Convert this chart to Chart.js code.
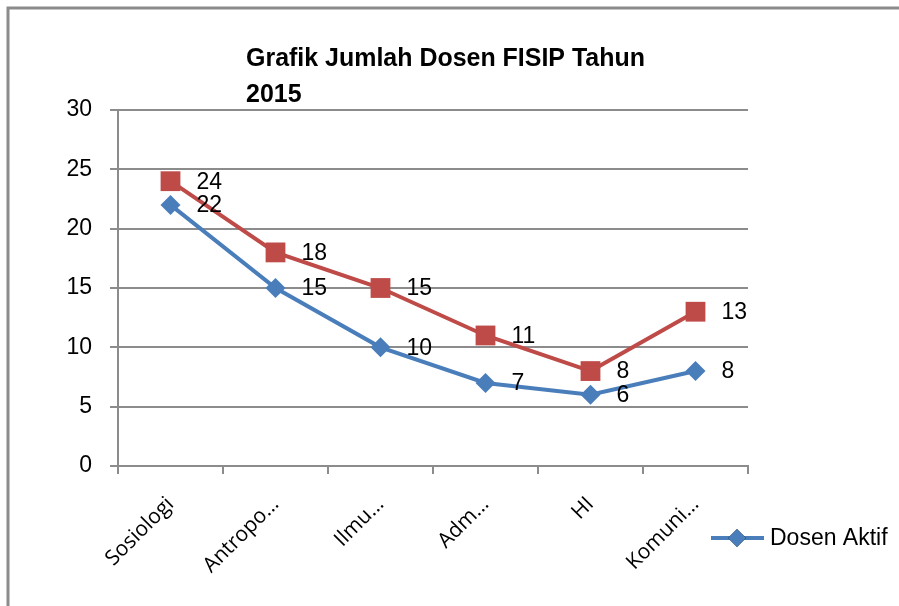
<!DOCTYPE html>
<html>
<head>
<meta charset="utf-8">
<script src="https://cdn.jsdelivr.net/npm/chart.js@4"></script>
<style>
  body { margin: 0; background: #fff; overflow: hidden; }
</style>
</head>
<body>
<canvas id="dosenChart" width="899" height="606"></canvas>
<script>
// Data
const categories = ['Sosiologi', 'Antropo…', 'Ilmu…', 'Adm…', 'HI', 'Komuni…'];
const dosenAktif = [22, 15, 10, 7, 6, 8];
const dosenTotal = [24, 18, 15, 11, 8, 13];
const titleLines = ['Grafik Jumlah Dosen FISIP Tahun', '2015'];

const sans = "'Liberation Sans', Arial, sans-serif";
const blue = '#4A7EBB';
const red = '#BE4B48';
const gridGray = '#8c8c8c';

// frame, title, value labels, legend
const decorPlugin = {
    id: 'decor',
    beforeDraw(chart) {
        const c = chart.ctx;
        c.save();
        c.strokeStyle = gridGray;
        c.lineWidth = 3;
        c.strokeRect(8, 8, 1200, 1200);
        c.restore();
    },
    afterDatasetsDraw(chart) {
        const c = chart.ctx;
        c.save();
        c.font = '23px ' + sans;
        c.fillStyle = '#000';
        c.textBaseline = 'middle';
        c.textAlign = 'left';
        chart.data.datasets.forEach((ds, i) => {
            chart.getDatasetMeta(i).data.forEach((pt, j) => {
                c.fillText(String(ds.data[j]), pt.x + 26, pt.y + 1);
            });
        });
        c.restore();
    },
    afterDraw(chart) {
        const c = chart.ctx;
        c.save();
        // title, slightly condensed
        c.save();
        c.translate(246, 0);
        c.scale(0.96, 1);
        c.font = 'bold 26px ' + sans;
        c.fillStyle = '#000';
        c.textBaseline = 'middle';
        c.fillText(titleLines[0], 0, 59);
        c.fillText(titleLines[1], 0, 95);
        c.restore();
        // legend (only first series visible)
        c.strokeStyle = blue;
        c.lineWidth = 4;
        c.beginPath();
        c.moveTo(711, 538);
        c.lineTo(764, 538);
        c.stroke();
        Chart.helpers.drawPoint(c, { pointStyle: 'rectRot', radius: 9, borderWidth: 0 }, 737, 538);
        c.fillStyle = blue;
        c.fill();
        c.fillStyle = '#000';
        c.textBaseline = 'middle';
        c.font = '23px ' + sans;
        c.fillText(chart.data.datasets[0].label, 770, 539);
        c.restore();
    }
};

const config = {
    type: 'line',
    data: {
        labels: categories,
        datasets: [{
            label: 'Dosen Aktif',
            data: dosenAktif,
            borderColor: blue,
            backgroundColor: blue,
            borderWidth: 4,
            pointStyle: 'rectRot',
            pointRadius: 10,
            pointBorderWidth: 0,
            tension: 0
        }, {
            label: 'Jumlah Dosen',
            data: dosenTotal,
            borderColor: red,
            backgroundColor: red,
            borderWidth: 4,
            pointStyle: 'rect',
            pointRadius: 14,
            pointBorderWidth: 0,
            tension: 0
        }]
    },
    options: {
        responsive: false,
        animation: false,
        layout: {
            padding: { top: 110, right: 151, left: 0, bottom: 0 }
        },
        scales: {
            x: {
                offset: true,
                afterFit: s => { s.height = 140; },
                grid: {
                    offset: true,
                    drawOnChartArea: false,
                    tickLength: 8,
                    color: gridGray,
                    lineWidth: 2
                },
                border: { color: gridGray, width: 2 },
                ticks: {
                    autoSkip: false,
                    minRotation: 45,
                    maxRotation: 45,
                    padding: 18,
                    color: '#000',
                    font: { family: "'Open Sans', sans-serif", size: 21 }
                }
            },
            y: {
                min: 0,
                max: 30,
                afterFit: s => { s.width = 118; },
                grid: {
                    tickLength: 8,
                    color: gridGray,
                    lineWidth: 2
                },
                border: { color: gridGray, width: 2 },
                ticks: {
                    stepSize: 5,
                    padding: 18,
                    color: '#000',
                    font: { family: sans, size: 23 }
                }
            }
        },
        plugins: {
            legend: { display: false },
            title: { display: false },
            tooltip: { enabled: false }
        }
    },
    plugins: [decorPlugin]
};

new Chart(document.getElementById('dosenChart').getContext('2d'), config);
</script>
</body>
</html>
